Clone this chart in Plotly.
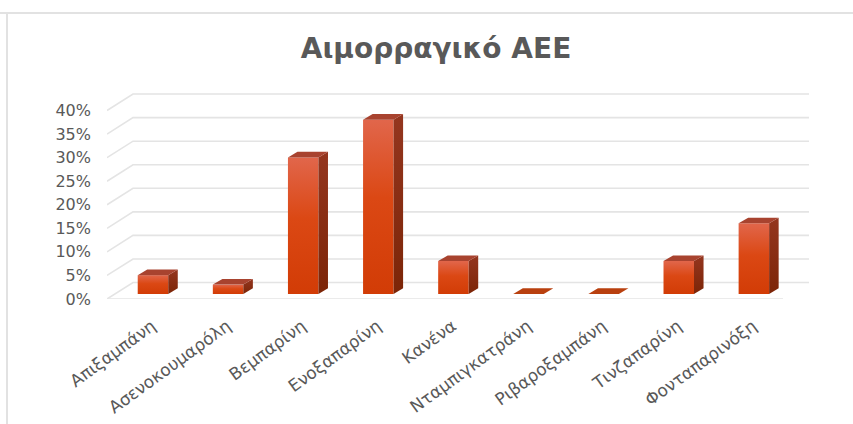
import plotly.graph_objects as go

# Data
categories = ["Απιξαμπάνη", "Ασενοκουμαρόλη", "Βεμπαρίνη", "Ενοξαπαρίνη", "Κανένα",
              "Νταμπιγκατράνη", "Ριβαροξαμπάνη", "Τινζαπαρίνη", "Φονταπαρινόξη"]
values = [4, 2, 29, 37, 7, 0, 0, 7, 15]          # percent
y_ticks = [0, 5, 10, 15, 20, 25, 30, 35, 40]
y_tick_labels = [f"{v}%" for v in y_ticks]
title_text = "Αιμορραγικό ΑΕΕ"

# 3-D look: offsets expressed in axis units (x: category, y: percent)
WALL_DX, WALL_DY = 0.346, 3.5      # back wall relative to front plane
BAR_DX, BAR_DY = 0.112, 1.06       # bar front face relative to front plane
DEPTH_DX, DEPTH_DY = 0.127, 1.2    # bar depth
BAR_W = 0.406

GRID = "#E4E4E4"
TEXT = "#595959"
FRONT_SCALE = [[0, "#D23C06"], [0.55, "#DB4814"], [1, "#E1664B"]]
SIDE_SCALE = [[0, "#7C2507"], [1, "#94361F"]]
TOP_COLOR = "#A8432F"
FLAT_COLOR = "#B9400F"

n = len(categories)
x_left, x_right = -0.5, n - 0.5

fig = go.Figure()

# back wall gridlines with the diagonal floor/side edge
for v in y_ticks:
    fig.add_trace(go.Scatter(
        x=[x_left, x_left + WALL_DX, x_right + WALL_DX],
        y=[v, v + WALL_DY, v + WALL_DY],
        mode="lines", line=dict(color=GRID, width=1.6),
        hoverinfo="skip", showlegend=False))

# front floor edge
fig.add_trace(go.Scatter(
    x=[x_left, x_right], y=[0, 0], mode="lines",
    line=dict(color=GRID, width=1.6), hoverinfo="skip", showlegend=False))

# bars drawn as three faces
for i, v in enumerate(values):
    x0 = i - BAR_W / 2 + BAR_DX
    x1 = i + BAR_W / 2 + BAR_DX
    yb = BAR_DY
    yt = BAR_DY + v
    if v > 0:
        fig.add_trace(go.Scatter(
            x=[x0, x1, x1, x0, x0], y=[yb, yb, yt, yt, yb],
            mode="lines", line=dict(width=0), fill="toself",
            fillgradient=dict(type="vertical", colorscale=FRONT_SCALE),
            hoverinfo="skip", showlegend=False))
        fig.add_trace(go.Scatter(
            x=[x1, x1 + DEPTH_DX, x1 + DEPTH_DX, x1, x1],
            y=[yb, yb + DEPTH_DY, yt + DEPTH_DY, yt, yb],
            mode="lines", line=dict(width=0), fill="toself",
            fillgradient=dict(type="vertical", colorscale=SIDE_SCALE),
            hoverinfo="skip", showlegend=False))
    fig.add_trace(go.Scatter(
        x=[x0, x1, x1 + DEPTH_DX, x0 + DEPTH_DX, x0],
        y=[yt, yt, yt + DEPTH_DY, yt + DEPTH_DY, yt],
        mode="lines", line=dict(width=0), fill="toself",
        fillcolor=TOP_COLOR if v > 0 else FLAT_COLOR,
        hovertemplate=f"{categories[i]}: {v}%<extra></extra>", showlegend=False))

fig.update_layout(
    width=853, height=424,
    margin=dict(l=107, r=44, t=87, b=125),
    paper_bgcolor="white", plot_bgcolor="white",
    title=dict(text=f"<b>{title_text}</b>", x=436 / 853, xanchor="center",
               y=1 - 48 / 424, yanchor="middle",
               font=dict(family="DejaVu Sans", size=28, color=TEXT)),
    xaxis=dict(range=[x_left, x_right + WALL_DX], showgrid=False, zeroline=False,
               showline=False, ticks="", automargin=False,
               tickmode="array", tickvals=[i + 0.1 for i in range(n)],
               ticktext=categories, tickangle=-36, ticklabelstandoff=13,
               tickfont=dict(family="DejaVu Sans", size=17, color=TEXT)),
    yaxis=dict(range=[0, 45], showgrid=False, zeroline=False, showline=False,
               automargin=False,
               tickmode="array", tickvals=y_ticks, ticktext=y_tick_labels,
               ticklabelstandoff=15,
               tickfont=dict(family="DejaVu Sans", size=16, color=TEXT)),
    shapes=[
        dict(type="line", xref="paper", yref="paper", x0=-107 / 702, x1=1 + 44 / 702,
             y0=1 + (87 - 13) / 212, y1=1 + (87 - 13) / 212,
             line=dict(color="#E2E2E2", width=2)),
        dict(type="line", xref="paper", yref="paper", x0=-(107 - 7) / 702, x1=-(107 - 7) / 702,
             y0=1 + (87 - 13) / 212, y1=-125 / 212,
             line=dict(color="#E2E2E2", width=2)),
    ],
)

fig.write_html("out.html")
